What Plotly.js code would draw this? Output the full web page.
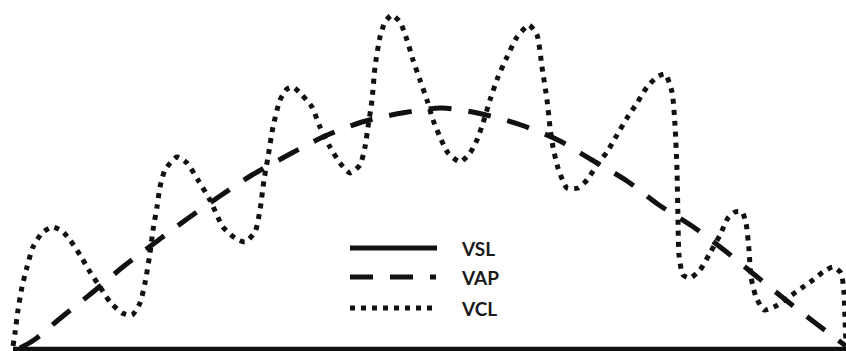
<!DOCTYPE html>
<html>
<head>
<meta charset="utf-8">
<script src="https://cdn.plot.ly/plotly-3.0.1.min.js"></script>
<style>
html,body{margin:0;padding:0;background:#fff;}
#chart{width:846px;height:351px;}
</style>
</head>
<body>
<div id="chart"></div>
<script>
// Series names
const seriesNames = ["VSL", "VAP", "VCL"];

// VCL (curvilinear path) – horizontal position and height above baseline
const vclX = [13,15,18,22,27,33,42,52,62,70,80,90,100,110,122,132,140,145,150,153,157,160,165,177,187,198,210,223,235,245,255,260,264,268,273,280,287,293,302,312,320,330,340,350,360,365,368,372,375,380,385,392,400,407,413,420,427,433,440,448,460,470,477,483,490,498,507,517,529,537,542,547,550,553,558,567,578,587,597,607,617,627,637,647,657,665,672,675,677,678,679,683,690,700,710,720,728,735,742,746,749,751,756,764,776,789,803,813,823,833,841,844,845,846];
const vclY = [3,16,39,62,82,102,116,122,118,109,94,77,62,47,36,34,46,66,96,119,142,162,179,192,186,169,149,122,111,107,117,139,169,192,222,249,260,262,254,242,222,202,186,176,184,202,222,249,282,312,327,334,327,309,289,269,249,229,212,196,187,196,209,226,249,272,292,312,324,314,282,249,222,202,181,161,161,169,184,197,214,231,246,262,272,275,257,224,179,129,94,74,71,79,96,114,131,137,137,126,99,72,52,39,43,52,62,69,77,82,76,56,29,4];

// VAP (average path)
const vapX = [20,34,63,93,124,156,187,220,252,290,325,362,402,442,482,521,558,592,627,659,692,724,756,787,818,846];
const vapY = [1,9,33,57,83,107,130,153,174,195,213,227,236,241,235,224,209,189,168,144,123,99,73,48,24,3];

// VSL (straight line path)
const vslX = [13,846];
const vslY = [0,0];

const ink = "#111";
const traces = [
  {x: vslX, y: vslY, mode: "lines", line: {color: ink, width: 4.5}, hoverinfo: "skip"},
  {x: vapX, y: vapY, mode: "lines", line: {color: ink, width: 5, dash: "23px,17px", shape: "spline", smoothing: 0.8}, hoverinfo: "skip"},
  {x: vclX, y: vclY, mode: "lines", line: {color: ink, width: 5, dash: "5px,6px", shape: "spline", smoothing: 0.6}, hoverinfo: "skip"},
  // legend samples
  {x: [350,437], y: [101,101], mode: "lines", line: {color: ink, width: 5}, hoverinfo: "skip"},
  {x: [350,436], y: [72,72], mode: "lines", line: {color: ink, width: 5, dash: "23px,17px"}, hoverinfo: "skip"},
  {x: [350,437], y: [41,41], mode: "lines", line: {color: ink, width: 5, dash: "5px,6px"}, hoverinfo: "skip"}
];

const legendY = [101, 72, 41];
const annotations = seriesNames.map((n, i) => ({
  x: 459, y: legendY[i], xref: "x", yref: "y", text: n, showarrow: false,
  xanchor: "left", yanchor: "middle",
  font: {family: "Lato, 'Open Sans', sans-serif", size: 19, color: "#1a1a1a", weight: "bold"}
}));

const layout = {
  width: 846, height: 351,
  margin: {l: 0, r: 0, t: 0, b: 0, pad: 0},
  paper_bgcolor: "#fff", plot_bgcolor: "#fff",
  showlegend: false,
  xaxis: {range: [0, 846], visible: false, fixedrange: true},
  yaxis: {range: [-2, 349], visible: false, fixedrange: true},
  annotations: annotations
};

Plotly.newPlot("chart", traces, layout, {staticPlot: true, displayModeBar: false});
</script>
</body>
</html>
